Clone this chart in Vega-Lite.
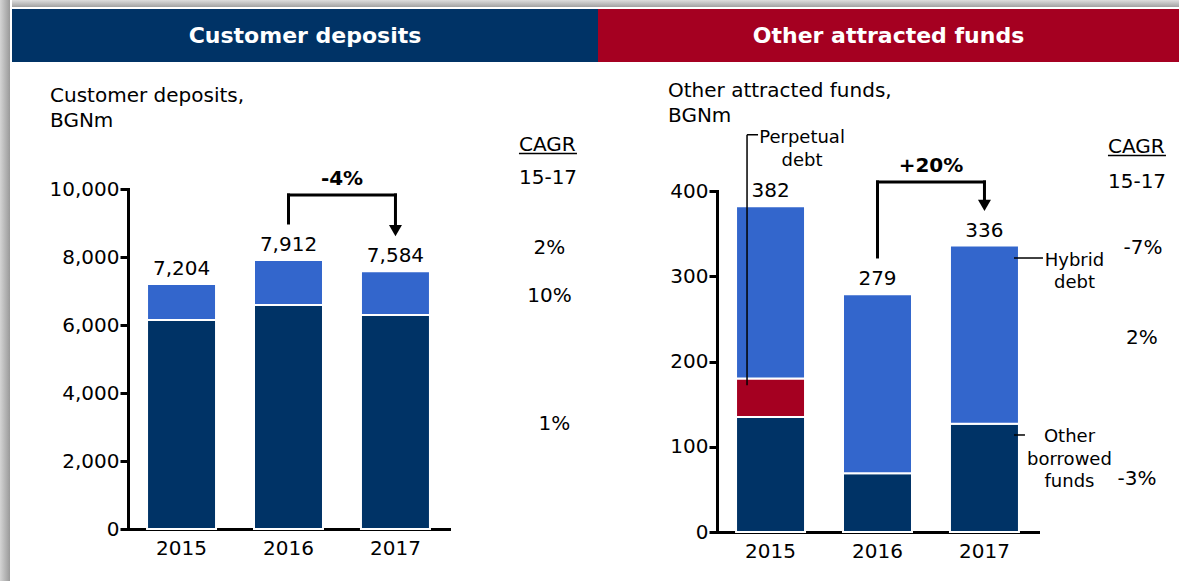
{
  "$schema": "https://vega.github.io/schema/vega-lite/v6.json",
  "background": "white",
  "padding": 0,
  "config": {
    "font": "DejaVu Sans",
    "view": {"stroke": null},
    "text": {"fontSize": 20, "color": "black"},
    "axis": {"labelFont": "DejaVu Sans", "labelFontSize": 20, "labelColor": "black", "domainColor": "black", "domainWidth": 3, "domainCap": "square", "tickColor": "black", "tickWidth": 3, "grid": false, "labelFlush": false, "labelOverlap": false, "zindex": 1},
    "axisX": {"ticks": false, "tickSize": 0, "labelPadding": 9, "labelAngle": 0},
    "axisY": {"tickSize": 8, "labelPadding": 1}
  },
  "hconcat": [
    {
      "width": 12, "height": 581,
      "data": {"values": [{}]},
      "mark": {"type": "rect", "color": {"gradient": "linear", "x1": 0, "y1": 0, "x2": 1, "y2": 0, "stops": [{"offset": 0, "color": "#d4d4d4"}, {"offset": 0.8, "color": "#9c9c9c"}, {"offset": 0.83, "color": "#ffffff"}, {"offset": 1, "color": "#ffffff"}]}},
      "encoding": {
        "x": {"datum": 0, "type": "quantitative", "scale": {"domain": [0, 1], "nice": false}, "axis": null},
        "x2": {"datum": 1},
        "y": {"datum": 0, "type": "quantitative", "scale": {"domain": [0, 1], "nice": false}, "axis": null},
        "y2": {"datum": 1}
      }
    },
    {
      "vconcat": [
        {
          "width": 1167, "height": 9,
          "data": {"values": [{}]},
          "mark": {"type": "rect", "color": {"gradient": "linear", "x1": 0, "y1": 0, "x2": 0, "y2": 1, "stops": [{"offset": 0, "color": "#dedede"}, {"offset": 0.75, "color": "#a4a4a4"}, {"offset": 0.78, "color": "#ffffff"}, {"offset": 1, "color": "#ffffff"}]}},
          "encoding": {
            "x": {"datum": 0, "type": "quantitative", "scale": {"domain": [0, 1], "nice": false}, "axis": null},
            "x2": {"datum": 1},
            "y": {"datum": 0, "type": "quantitative", "scale": {"domain": [0, 1], "nice": false}, "axis": null},
            "y2": {"datum": 1}
          }
        },
        {
          "hconcat": [
            {
              "width": 586, "height": 53,
              "data": {"values": [{}]},
              "layer": [
                {
                  "mark": {"type": "rect", "color": "#003366"},
                  "encoding": {
                    "x": {"datum": 0, "type": "quantitative", "scale": {"domain": [0, 1], "nice": false}, "axis": null},
                    "x2": {"datum": 1},
                    "y": {"datum": 0, "type": "quantitative", "scale": {"domain": [0, 1], "nice": false}, "axis": null},
                    "y2": {"datum": 1}
                  }
                },
                {
                  "mark": {"type": "text", "text": "Customer deposits", "color": "white", "fontSize": 22, "fontWeight": "bold", "baseline": "middle", "align": "center"},
                  "encoding": {
                    "x": {"datum": 0.5, "type": "quantitative"},
                    "y": {"datum": 0.5, "type": "quantitative"}
                  }
                }
              ]
            },
            {
              "width": 581, "height": 53,
              "data": {"values": [{}]},
              "layer": [
                {
                  "mark": {"type": "rect", "color": "#A50021"},
                  "encoding": {
                    "x": {"datum": 0, "type": "quantitative", "scale": {"domain": [0, 1], "nice": false}, "axis": null},
                    "x2": {"datum": 1},
                    "y": {"datum": 0, "type": "quantitative", "scale": {"domain": [0, 1], "nice": false}, "axis": null},
                    "y2": {"datum": 1}
                  }
                },
                {
                  "mark": {"type": "text", "text": "Other attracted funds", "color": "white", "fontSize": 22, "fontWeight": "bold", "baseline": "middle", "align": "center"},
                  "encoding": {
                    "x": {"datum": 0.5, "type": "quantitative"},
                    "y": {"datum": 0.5, "type": "quantitative"}
                  }
                }
              ]
            }
          ],
          "spacing": 0,
          "bounds": "flush"
        },
        {
          "width": 10, "height": 180,
          "data": {"values": [{}]},
          "mark": {"type": "text", "text": ""}
        },
        {
          "hconcat": [
            {
              "width": 116, "height": 1,
              "data": {"values": [{}]},
              "mark": {"type": "text", "text": ""}
            },
            {
              "width": 321, "height": 340,
              "data": {"values": [
                {"year": "2015", "series": "Series 1", "rank": 1, "value": 6150},
                {"year": "2015", "series": "Series 2", "rank": 2, "value": 1054},
                {"year": "2016", "series": "Series 1", "rank": 1, "value": 6590},
                {"year": "2016", "series": "Series 2", "rank": 2, "value": 1322},
                {"year": "2017", "series": "Series 1", "rank": 1, "value": 6295},
                {"year": "2017", "series": "Series 2", "rank": 2, "value": 1289}
              ]},
              "layer": [
                {
                  "mark": {"type": "bar", "stroke": "white", "strokeWidth": 2},
                  "encoding": {
                    "x": {"field": "year", "type": "nominal", "scale": {"domain": ["2015", "2016", "2017"], "paddingInner": 0.355, "paddingOuter": 0.178}, "axis": {"title": null}},
                    "y": {"field": "value", "type": "quantitative", "stack": "zero", "scale": {"domain": [0, 10000], "nice": false}, "axis": {"title": null, "values": [0, 2000, 4000, 6000, 8000, 10000], "labelExpr": "format(datum.value, ',')"}},
                    "color": {"field": "series", "type": "nominal", "scale": {"domain": ["Series 1", "Series 2"], "range": ["#003366", "#3366CC"]}, "legend": null},
                    "order": {"field": "rank", "type": "quantitative"}
                  }
                },
                {
                  "mark": {"type": "text", "baseline": "alphabetic", "dy": -9, "fontSize": 20},
                  "encoding": {
                    "x": {"field": "year", "type": "nominal"},
                    "y": {"aggregate": "sum", "field": "value", "type": "quantitative", "scale": {"domain": [0, 10000], "nice": false}},
                    "text": {"aggregate": "sum", "field": "value", "type": "quantitative", "format": ","}
                  }
                },
                {
                  "data": {"values": [{}]},
                  "mark": {"type": "text", "text": ["Customer deposits,", "BGNm"], "align": "left", "baseline": "alphabetic", "lineHeight": 25, "dx": -131.5, "fontSize": 20},
                  "encoding": {"x": {"datum": "2015", "type": "nominal"}, "y": {"datum": 12559, "type": "quantitative", "scale": {"domain": [0, 10000], "nice": false}}}
                },
                {
                  "data": {"values": [{}]},
                  "mark": {"type": "text", "text": "CAGR", "align": "left", "baseline": "alphabetic", "dx": 123.5, "fontSize": 20},
                  "encoding": {"x": {"datum": "2017", "type": "nominal"}, "y": {"datum": 11118, "type": "quantitative", "scale": {"domain": [0, 10000], "nice": false}}}
                },
                {
                  "data": {"values": [{}]},
                  "mark": {"type": "tick", "color": "black", "opacity": 1, "size": 58, "thickness": 1.5, "xOffset": 152.5},
                  "encoding": {"x": {"datum": "2017", "type": "nominal"}, "y": {"datum": 11044, "type": "quantitative", "scale": {"domain": [0, 10000], "nice": false}}}
                },
                {
                  "data": {"values": [{}]},
                  "mark": {"type": "text", "text": "15-17", "align": "left", "baseline": "alphabetic", "dx": 123.5, "fontSize": 20},
                  "encoding": {"x": {"datum": "2017", "type": "nominal"}, "y": {"datum": 10147, "type": "quantitative", "scale": {"domain": [0, 10000], "nice": false}}}
                },
                {
                  "data": {"values": [{}]},
                  "mark": {"type": "text", "text": "2%", "align": "center", "baseline": "alphabetic", "dx": 154, "fontSize": 20},
                  "encoding": {"x": {"datum": "2017", "type": "nominal"}, "y": {"datum": 8088, "type": "quantitative", "scale": {"domain": [0, 10000], "nice": false}}}
                },
                {
                  "data": {"values": [{}]},
                  "mark": {"type": "text", "text": "10%", "align": "center", "baseline": "alphabetic", "dx": 154, "fontSize": 20},
                  "encoding": {"x": {"datum": "2017", "type": "nominal"}, "y": {"datum": 6676, "type": "quantitative", "scale": {"domain": [0, 10000], "nice": false}}}
                },
                {
                  "data": {"values": [{}]},
                  "mark": {"type": "text", "text": "1%", "align": "center", "baseline": "alphabetic", "dx": 159, "fontSize": 20},
                  "encoding": {"x": {"datum": "2017", "type": "nominal"}, "y": {"datum": 2912, "type": "quantitative", "scale": {"domain": [0, 10000], "nice": false}}}
                },
                {
                  "data": {"values": [{}]},
                  "mark": {"type": "text", "text": "-4%", "align": "center", "baseline": "alphabetic", "dx": 53.5, "fontSize": 20, "fontWeight": "bold"},
                  "encoding": {"x": {"datum": "2016", "type": "nominal"}, "y": {"datum": 10118, "type": "quantitative", "scale": {"domain": [0, 10000], "nice": false}}}
                },
                {
                  "data": {"values": [{}]},
                  "mark": {"type": "rule", "color": "black", "strokeWidth": 3, "strokeCap": "square"},
                  "encoding": {"x": {"datum": "2016", "type": "nominal"}, "y": {"datum": 9000, "type": "quantitative", "scale": {"domain": [0, 10000], "nice": false}}, "y2": {"datum": 9824}}
                },
                {
                  "data": {"values": [{}]},
                  "mark": {"type": "tick", "color": "black", "opacity": 1, "size": 110, "thickness": 3, "xOffset": 53.5},
                  "encoding": {"x": {"datum": "2016", "type": "nominal"}, "y": {"datum": 9824, "type": "quantitative", "scale": {"domain": [0, 10000], "nice": false}}}
                },
                {
                  "data": {"values": [{}]},
                  "mark": {"type": "rule", "color": "black", "strokeWidth": 3, "strokeCap": "square"},
                  "encoding": {"x": {"datum": "2017", "type": "nominal"}, "y": {"datum": 8912, "type": "quantitative", "scale": {"domain": [0, 10000], "nice": false}}, "y2": {"datum": 9824}}
                },
                {
                  "data": {"values": [{}]},
                  "mark": {"type": "point", "shape": "triangle-down", "filled": true, "size": 169, "color": "black", "opacity": 1},
                  "encoding": {"x": {"datum": "2017", "type": "nominal"}, "y": {"datum": 8779, "type": "quantitative", "scale": {"domain": [0, 10000], "nice": false}}}
                }
              ]
            },
            {
              "width": 268, "height": 1,
              "data": {"values": [{}]},
              "mark": {"type": "text", "text": ""}
            },
            {
              "vconcat": [
                {
                  "width": 10, "height": 2,
                  "data": {"values": [{}]},
                  "mark": {"type": "text", "text": ""}
                },
                {
                  "width": 321, "height": 341,
                  "data": {"values": [
                    {"year": "2015", "series": "Other borrowed funds", "rank": 1, "value": 135},
                    {"year": "2015", "series": "Perpetual debt", "rank": 2, "value": 45},
                    {"year": "2015", "series": "Hybrid debt", "rank": 3, "value": 202},
                    {"year": "2016", "series": "Other borrowed funds", "rank": 1, "value": 69},
                    {"year": "2016", "series": "Hybrid debt", "rank": 3, "value": 210},
                    {"year": "2017", "series": "Other borrowed funds", "rank": 1, "value": 127},
                    {"year": "2017", "series": "Hybrid debt", "rank": 3, "value": 209}
                  ]},
                  "layer": [
                    {
                      "mark": {"type": "bar", "stroke": "white", "strokeWidth": 2},
                      "encoding": {
                        "x": {"field": "year", "type": "nominal", "scale": {"domain": ["2015", "2016", "2017"], "paddingInner": 0.355, "paddingOuter": 0.178}, "axis": {"title": null}},
                        "y": {"field": "value", "type": "quantitative", "stack": "zero", "scale": {"domain": [0, 400], "nice": false}, "axis": {"title": null, "values": [0, 100, 200, 300, 400], "labelExpr": "format(datum.value, 'd')"}},
                        "color": {"field": "series", "type": "nominal", "scale": {"domain": ["Other borrowed funds", "Perpetual debt", "Hybrid debt"], "range": ["#003366", "#A50021", "#3366CC"]}, "legend": null},
                        "order": {"field": "rank", "type": "quantitative"}
                      }
                    },
                    {
                      "mark": {"type": "text", "baseline": "alphabetic", "dy": -9, "fontSize": 20},
                      "encoding": {
                        "x": {"field": "year", "type": "nominal"},
                        "y": {"aggregate": "sum", "field": "value", "type": "quantitative", "scale": {"domain": [0, 400], "nice": false}},
                        "text": {"aggregate": "sum", "field": "value", "type": "quantitative", "format": ","}
                      }
                    },
                    {
                      "data": {"values": [{}]},
                      "mark": {"type": "text", "text": ["Other attracted funds,", "BGNm"], "align": "left", "baseline": "alphabetic", "lineHeight": 25, "dx": -102.5, "fontSize": 20},
                      "encoding": {"x": {"datum": "2015", "type": "nominal"}, "y": {"datum": 510.3, "type": "quantitative", "scale": {"domain": [0, 400], "nice": false}}}
                    },
                    {
                      "data": {"values": [{}]},
                      "mark": {"type": "text", "text": "CAGR", "align": "left", "baseline": "alphabetic", "dx": 123.5, "fontSize": 20},
                      "encoding": {"x": {"datum": "2017", "type": "nominal"}, "y": {"datum": 444.6, "type": "quantitative", "scale": {"domain": [0, 400], "nice": false}}}
                    },
                    {
                      "data": {"values": [{}]},
                      "mark": {"type": "tick", "color": "black", "opacity": 1, "size": 58, "thickness": 1.5, "xOffset": 152.5},
                      "encoding": {"x": {"datum": "2017", "type": "nominal"}, "y": {"datum": 441.6, "type": "quantitative", "scale": {"domain": [0, 400], "nice": false}}}
                    },
                    {
                      "data": {"values": [{}]},
                      "mark": {"type": "text", "text": "15-17", "align": "left", "baseline": "alphabetic", "dx": 123.5, "fontSize": 20},
                      "encoding": {"x": {"datum": "2017", "type": "nominal"}, "y": {"datum": 403.5, "type": "quantitative", "scale": {"domain": [0, 400], "nice": false}}}
                    },
                    {
                      "data": {"values": [{}]},
                      "mark": {"type": "text", "text": "-7%", "align": "center", "baseline": "alphabetic", "dx": 158.5, "fontSize": 20},
                      "encoding": {"x": {"datum": "2017", "type": "nominal"}, "y": {"datum": 326.1, "type": "quantitative", "scale": {"domain": [0, 400], "nice": false}}}
                    },
                    {
                      "data": {"values": [{}]},
                      "mark": {"type": "text", "text": "2%", "align": "center", "baseline": "alphabetic", "dx": 157.5, "fontSize": 20},
                      "encoding": {"x": {"datum": "2017", "type": "nominal"}, "y": {"datum": 220.5, "type": "quantitative", "scale": {"domain": [0, 400], "nice": false}}}
                    },
                    {
                      "data": {"values": [{}]},
                      "mark": {"type": "text", "text": "-3%", "align": "center", "baseline": "alphabetic", "dx": 152.5, "fontSize": 20},
                      "encoding": {"x": {"datum": "2017", "type": "nominal"}, "y": {"datum": 55.1, "type": "quantitative", "scale": {"domain": [0, 400], "nice": false}}}
                    },
                    {
                      "data": {"values": [{}]},
                      "mark": {"type": "rule", "color": "black", "strokeWidth": 1.5, "xOffset": -23.5},
                      "encoding": {"x": {"datum": "2015", "type": "nominal"}, "y": {"datum": 172, "type": "quantitative", "scale": {"domain": [0, 400], "nice": false}}, "y2": {"datum": 466}}
                    },
                    {
                      "data": {"values": [{}]},
                      "mark": {"type": "tick", "color": "black", "opacity": 1, "size": 11, "thickness": 1.5, "xOffset": -18},
                      "encoding": {"x": {"datum": "2015", "type": "nominal"}, "y": {"datum": 466, "type": "quantitative", "scale": {"domain": [0, 400], "nice": false}}}
                    },
                    {
                      "data": {"values": [{}]},
                      "mark": {"type": "text", "text": ["Perpetual", "debt"], "align": "center", "baseline": "alphabetic", "lineHeight": 23, "dx": 31.5, "fontSize": 18},
                      "encoding": {"x": {"datum": "2015", "type": "nominal"}, "y": {"datum": 456.3, "type": "quantitative", "scale": {"domain": [0, 400], "nice": false}}}
                    },
                    {
                      "data": {"values": [{}]},
                      "mark": {"type": "text", "text": "+20%", "align": "center", "baseline": "alphabetic", "dx": 53.5, "fontSize": 20, "fontWeight": "bold"},
                      "encoding": {"x": {"datum": "2016", "type": "nominal"}, "y": {"datum": 422.3, "type": "quantitative", "scale": {"domain": [0, 400], "nice": false}}}
                    },
                    {
                      "data": {"values": [{}]},
                      "mark": {"type": "rule", "color": "black", "strokeWidth": 3, "strokeCap": "square"},
                      "encoding": {"x": {"datum": "2016", "type": "nominal"}, "y": {"datum": 322.6, "type": "quantitative", "scale": {"domain": [0, 400], "nice": false}}, "y2": {"datum": 410.6}}
                    },
                    {
                      "data": {"values": [{}]},
                      "mark": {"type": "tick", "color": "black", "opacity": 1, "size": 110, "thickness": 3, "xOffset": 53.5},
                      "encoding": {"x": {"datum": "2016", "type": "nominal"}, "y": {"datum": 410.6, "type": "quantitative", "scale": {"domain": [0, 400], "nice": false}}}
                    },
                    {
                      "data": {"values": [{}]},
                      "mark": {"type": "rule", "color": "black", "strokeWidth": 3, "strokeCap": "square"},
                      "encoding": {"x": {"datum": "2017", "type": "nominal"}, "y": {"datum": 388.3, "type": "quantitative", "scale": {"domain": [0, 400], "nice": false}}, "y2": {"datum": 410.6}}
                    },
                    {
                      "data": {"values": [{}]},
                      "mark": {"type": "point", "shape": "triangle-down", "filled": true, "size": 169, "color": "black", "opacity": 1},
                      "encoding": {"x": {"datum": "2017", "type": "nominal"}, "y": {"datum": 383, "type": "quantitative", "scale": {"domain": [0, 400], "nice": false}}}
                    },
                    {
                      "data": {"values": [{}]},
                      "mark": {"type": "tick", "color": "black", "opacity": 1, "size": 29, "thickness": 1.5, "xOffset": 44},
                      "encoding": {"x": {"datum": "2017", "type": "nominal"}, "y": {"datum": 321.4, "type": "quantitative", "scale": {"domain": [0, 400], "nice": false}}}
                    },
                    {
                      "data": {"values": [{}]},
                      "mark": {"type": "text", "text": ["Hybrid", "debt"], "align": "center", "baseline": "alphabetic", "lineHeight": 22, "dx": 90, "fontSize": 18},
                      "encoding": {"x": {"datum": "2017", "type": "nominal"}, "y": {"datum": 312.4, "type": "quantitative", "scale": {"domain": [0, 400], "nice": false}}}
                    },
                    {
                      "data": {"values": [{}]},
                      "mark": {"type": "tick", "color": "black", "opacity": 1, "size": 11, "thickness": 1.5, "xOffset": 35},
                      "encoding": {"x": {"datum": "2017", "type": "nominal"}, "y": {"datum": 113.8, "type": "quantitative", "scale": {"domain": [0, 400], "nice": false}}}
                    },
                    {
                      "data": {"values": [{}]},
                      "mark": {"type": "text", "text": ["Other", "borrowed", "funds"], "align": "center", "baseline": "alphabetic", "lineHeight": 22.3, "dx": 85, "fontSize": 18},
                      "encoding": {"x": {"datum": "2017", "type": "nominal"}, "y": {"datum": 105.2, "type": "quantitative", "scale": {"domain": [0, 400], "nice": false}}}
                    }
                  ]
                }
              ],
              "spacing": 0,
              "bounds": "flush",
              "resolve": {"scale": {"color": "independent"}}
            }
          ],
          "spacing": 0,
          "bounds": "flush",
          "resolve": {"scale": {"color": "independent"}}
        }
      ],
      "spacing": 0,
      "bounds": "flush",
      "resolve": {"scale": {"color": "independent"}}
    }
  ],
  "spacing": 0,
  "bounds": "flush",
  "resolve": {"scale": {"color": "independent"}}
}
